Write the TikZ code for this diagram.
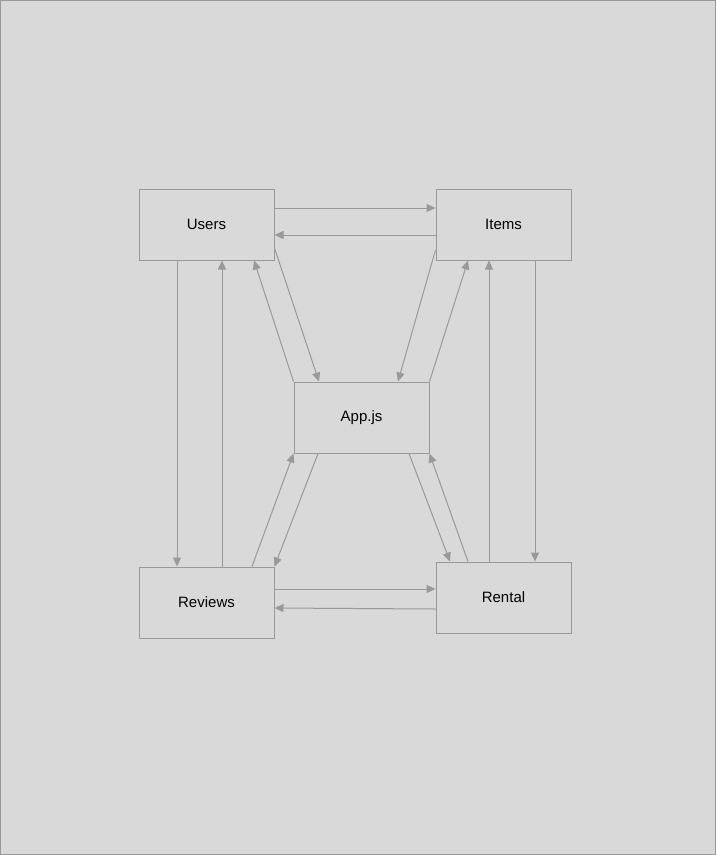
\documentclass[tikz,border=0pt]{standalone}
\usepackage{fontspec}
\setmainfont{Liberation Sans}
\usepackage{xcolor}
\usetikzlibrary{arrows.meta}

\definecolor{canvas}{HTML}{D9D9D9}
\definecolor{edge}{HTML}{999999}

\tikzset{
  box/.style={draw=edge, line width=1pt, minimum width=135pt, minimum height=71pt,
    inner sep=0pt, font=\fontsize{15}{18}\selectfont},
  arr/.style={draw=edge, line width=1pt, -{Triangle[length=9pt,width=8pt]}}
}

\begin{document}
\begin{tikzpicture}[x=1pt,y=-1pt]
\useasboundingbox (0,0) rectangle (716,855);
\draw[fill=canvas, draw=edge, line width=1pt] (0.5,0.5) rectangle (715.5,854.5); %background

\node[box] (users) at (206.5,224.5) {Users};
\node[box] (items) at (503.5,224.5) {Items};
\node[box] (app) at (361.5,417.5) {App.js};
\node[box] (reviews) at (206.5,602.5) {Reviews};
\node[box] (rental) at (503.5,597.5) {Rental};

% top row
\draw[arr] ([yshift=16.5pt]users.east) -- ([yshift=16.5pt]items.west);
\draw[arr] ([yshift=-10.5pt]items.west) -- ([yshift=-10.5pt]users.east);

% left column
\draw[arr] ([xshift=-29.5pt]users.south) -- ([xshift=-29.5pt]reviews.north);
\draw[arr] ([xshift=15.5pt]reviews.north) -- ([xshift=15.5pt]users.south);

% right column
\draw[arr] ([xshift=31.5pt]items.south) -- ([xshift=31.5pt]rental.north);
\draw[arr] ([xshift=-14.5pt]rental.north) -- ([xshift=-14.5pt]items.south);

% to and from App.js
\draw[arr] ([yshift=-23.5pt]users.east) -- ([xshift=-42.5pt]app.north);
\draw[arr] (app.north west) -- ([xshift=47.5pt]users.south);
\draw[arr] ([yshift=-25.5pt]items.west) -- ([xshift=36.5pt]app.north);
\draw[arr] (app.north east) -- ([xshift=-35.5pt]items.south);
\draw[arr] ([xshift=-43.5pt]app.south) -- (reviews.north east);
\draw[arr] ([xshift=45.5pt]reviews.north) -- (app.south west);
\draw[arr] ([xshift=47.5pt]app.south) -- ([xshift=-53.5pt]rental.north);
\draw[arr] ([xshift=-35.5pt]rental.north) -- (app.south east);

% bottom row
\draw[arr] ([yshift=13.5pt]reviews.east) -- ([yshift=8.5pt]rental.west);
\draw[arr] ([yshift=-11.5pt]rental.west) -- ([yshift=-5.5pt]reviews.east);

\end{tikzpicture}
\end{document}
